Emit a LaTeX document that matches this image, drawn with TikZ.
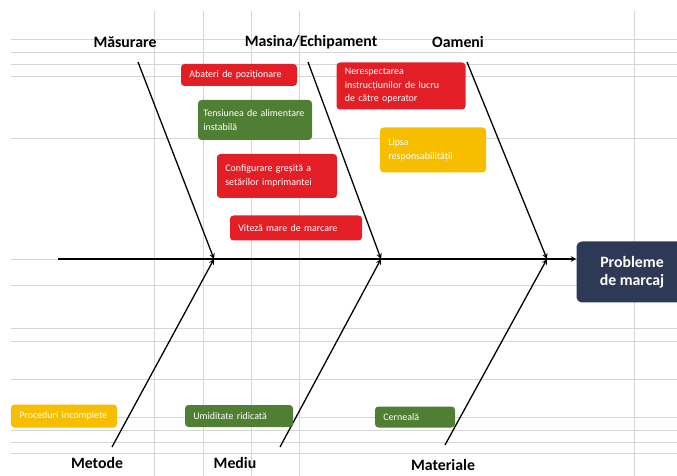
\documentclass[tikz,border=0pt]{standalone}
\usepackage{fontspec}
\setmainfont{Carlito}
\usepackage{xcolor}
\usetikzlibrary{arrows,positioning}

\definecolor{fbred}{HTML}{E41E26}
\definecolor{fbgreen}{HTML}{4F7F33}
\definecolor{fbyellow}{HTML}{F7BE00}
\definecolor{fbnavy}{HTML}{2E3A55}
\definecolor{gridgray}{HTML}{D6D6D6}

\tikzset{
  cause/.style={rounded corners=3pt, text=white, align=left,
    font=\fontsize{8.5}{11.5}\selectfont, inner xsep=2.5mm, inner ysep=1pt},
  cat/.style={font=\fontsize{13.5}{15}\selectfont\bfseries},
  bone/.style={->, >=stealth, line width=1.1pt},
  gridline/.style={gridgray, line width=0.6pt},
}

\begin{document}
\begin{tikzpicture}[x=0.3mm, y=-0.3mm]

    \useasboundingbox (0,0) rectangle (677,476);

    % Grid
    \foreach \y in {39,52,64,76,138,259,285,328,341,379,417,430,442,453} {
        \draw[gridline] (11,\y) -- (677,\y);
    }
    \foreach \x in {154,203,251,299,634} {
        \draw[gridline] (\x,11) -- (\x,476);
    }

    % Head
    \node[fill=fbnavy, text=white, rounded corners=5pt, align=center,
      minimum width=33.3mm, minimum height=18.3mm,
      font=\fontsize{13.5}{15.5}\selectfont\bfseries] (prob) at (632,272)
      {Probleme\\de marcaj};

    % Spine
    \coordinate (tail) at (58,259);
    \draw[bone] (tail) -- (tail -| prob.west);

    % Categories
    \node[cat] (meas) at (125,42) {Măsurare};
    \node[cat] (mach) at (311,42) {Masina/Echipament};
    \node[cat] (people) at (458,42) {Oameni};
    \node[cat] (meth) at (97,463) {Metode};
    \node[cat] (env) at (235,463) {Mediu};
    \node[cat] (mat) at (443,465) {Materiale};

    % Bones
    \coordinate (t1) at (138,62);
    \coordinate (t2) at (308,62);
    \coordinate (t3) at (467,62);
    \coordinate (b1) at (112,447);
    \coordinate (b2) at (280,447);
    \coordinate (b3) at (445,445);
    \coordinate (j1) at (214,259);
    \coordinate (j2) at (381,259);
    \coordinate (j3) at (547,259);
    \draw[bone] (t1) -- (j1);
    \draw[bone] (t2) -- (j2);
    \draw[bone] (t3) -- (j3);
    \draw[bone] (b1) -- (j1);
    \draw[bone] (b2) -- (j2);
    \draw[bone] (b3) -- (j3);

    % Causes
    \node[cause, fill=fbred, text width=29.8mm, minimum height=6.6mm] (c1)
      at (239,75) {Abateri de poziționare};
    \node[cause, fill=fbgreen, inner xsep=1.6mm, text width=31mm, minimum height=12mm] (c2)
      at (255,120) {Tensiunea de alimentare\\instabilă};
    \node[cause, fill=fbred, text width=31mm, minimum height=13.2mm] (c3)
      at (277,176) {Configurare greșită a\\setărilor imprimantei};
    \node[cause, fill=fbred, text width=34.6mm, minimum height=7.5mm] (c4)
      at (296,228) {Viteză mare de marcare};
    \node[cause, fill=fbred, text width=33.7mm, minimum height=14.1mm] (c5)
      at (401,86) {Nerespectarea\\instrucțiunilor de lucru\\de către operator};
    \node[cause, fill=fbyellow, text width=26.8mm, minimum height=13.5mm] (c6)
      at (433,150) {Lipsa\\responsabilității};
    \node[cause, fill=fbyellow, text width=26.8mm, minimum height=6.9mm] (c7)
      at (64,416) {Proceduri incomplete};
    \node[cause, fill=fbgreen, text width=27.4mm, minimum height=6.6mm] (c8)
      at (239,416) {Umiditate ridicată};
    \node[cause, fill=fbgreen, text width=19mm, minimum height=6.3mm] (c9)
      at (415,417) {Cerneală};

\end{tikzpicture}
\end{document}
